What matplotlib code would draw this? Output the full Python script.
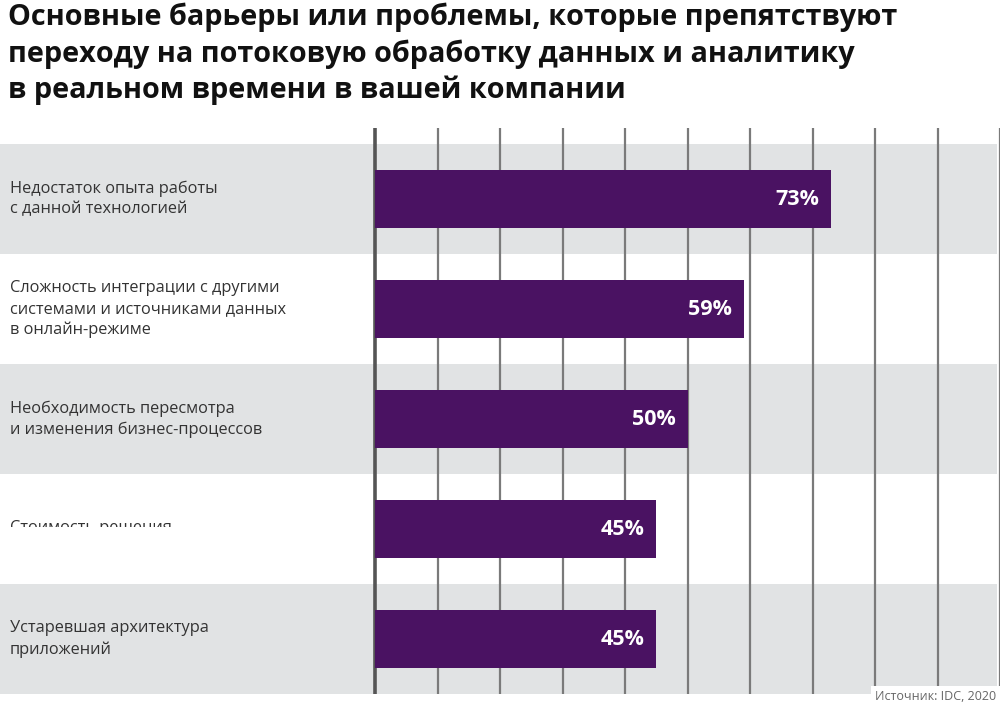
import matplotlib.pyplot as plt
from matplotlib.patches import Rectangle

plt.rcParams['font.family'] = ['Open Sans', 'DejaVu Sans']

# chart text and values
title_lines = [
    "Основные барьеры или проблемы, которые препятствуют",
    "переходу на потоковую обработку данных и аналитику",
    "в реальном времени в вашей компании",
]
categories = [
    "Недостаток опыта работы\nс данной технологией",
    "Сложность интеграции с другими\nсистемами и источниками данных\nв онлайн-режиме",
    "Необходимость пересмотра\nи изменения бизнес-процессов",
    "Стоимость решения",
    "Устаревшая архитектура\nприложений",
]
values = [73, 59, 50, 45, 45]
value_labels = ["73%", "59%", "50%", "45%", "45%"]
grid_ticks = list(range(0, 101, 10))
source_text = "Источник: IDC, 2020"

bar_color = "#4a1262"
band_color = "#e1e3e4"

fig = plt.figure(figsize=(10, 7.1), dpi=100)
ax = fig.add_axes([0, 0, 1, 1])
ax.set_xlim(-60, 100)
ax.set_ylim(4.645, -1.809)
ax.axis("off")

rows = list(range(len(categories)))

# alternating gray / white row bands
band_rows = [r for r in rows if r % 2 == 0]
ax.barh(band_rows, 159.5, left=-60, height=1.0, color=band_color, zorder=1)

# vertical grid lines, the zero line a bit heavier
ax.vlines(grid_ticks[1:], -0.645, 4.5, colors="#7a7a7a", lw=1.6, zorder=2)
ax.vlines(grid_ticks[0], -0.645, 4.5, colors="#555555", lw=2.6, zorder=2)

# bars
ax.barh(rows, values, left=0, height=0.52, color=bar_color, zorder=3)

for r, v, lbl in zip(rows, values, value_labels):
    ax.text(v - 1.9, r, lbl, ha="right", va="center", color="white",
            fontsize=15.5, fontweight="bold", zorder=4)

for r, cat in zip(rows, categories):
    y = r - 0.01 if r == 3 else r
    ax.text(-58.4, y, cat, ha="left", va="center", color="#333333",
            fontsize=11.8, linespacing=1.4, zorder=4)

# the original picture has the lower half of this label cut off
ax.add_patch(Rectangle((-60, 2.982), 59, 0.5, facecolor="white",
                       edgecolor="none", zorder=5))

fig.text(0.008, 0.996, "\n".join(title_lines), ha="left", va="top",
         fontsize=20.8, fontweight="bold", color="#111111", linespacing=1.31)

fig.text(0.875, 1 - 697 / 710, source_text, ha="left", va="center",
         fontsize=9, color="#666666",
         bbox=dict(facecolor="white", edgecolor="none", pad=3))

plt.savefig("out.png", dpi=100)
